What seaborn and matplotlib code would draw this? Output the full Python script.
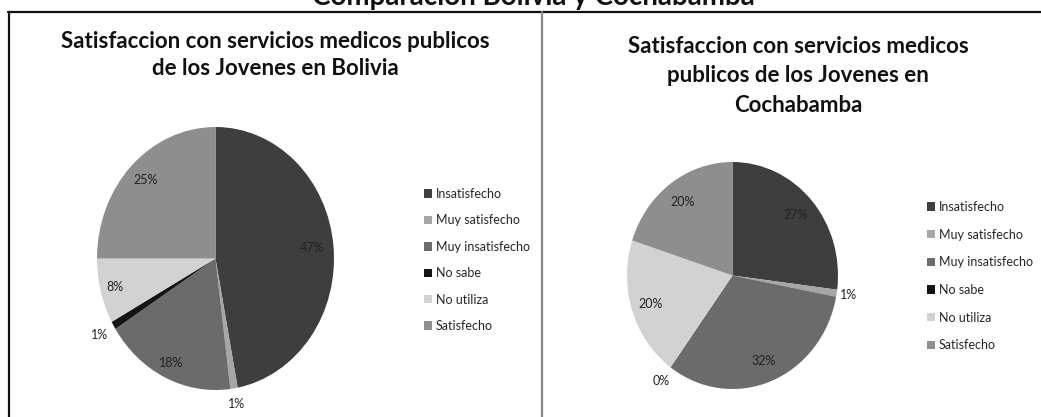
import matplotlib
matplotlib.use("Agg")
import matplotlib.pyplot as plt
from matplotlib.patches import Patch
from matplotlib.lines import Line2D
import numpy as np
import seaborn as sns

# ---- data ----
categories = ["Insatisfecho", "Muy satisfecho", "Muy insatisfecho",
              "No sabe", "No utiliza", "Satisfecho"]
bolivia_pct = [47, 1, 18, 1, 8, 25]
cocha_pct = [27, 1, 32, 0, 20, 20]

main_title = "Comparación Bolivia y Cochabamba"
bolivia_title = "Satisfaccion con servicios medicos publicos\nde los Jovenes en Bolivia"
cocha_title = "Satisfaccion con servicios medicos\npublicos de los Jovenes en\nCochabamba"

# ---- style ----
sns.set_theme(style="white")
plt.rcParams["font.family"] = ["Lato", "DejaVu Sans"]
grays = sns.color_palette(["#3e3e3e", "#a6a6a6", "#6b6b6b",
                           "#141414", "#d2d2d2", "#8e8e8e"])

W, H = 1041, 417
fig = plt.figure(figsize=(W / 100, H / 100), dpi=100)


def box(x0, y0, x1, y1):
    """Pixel box (top-left origin) -> figure-fraction rect."""
    return [x0 / W, 1 - y1 / H, (x1 - x0) / W, (y1 - y0) / H]


def fx(x):
    return x / W


def fy(y):
    return 1 - y / H


def draw_pie(rect, values, label_r):
    ax = fig.add_axes(rect)
    wedges, _ = ax.pie(values, colors=grays, startangle=90, counterclock=False,
                       radius=1.0, wedgeprops=dict(linewidth=0))
    ax.set_aspect("auto")
    ax.set_xlim(-1, 1)
    ax.set_ylim(-1, 1)
    ax.axis("off")
    for w, v, r in zip(wedges, values, label_r):
        mid = np.deg2rad((w.theta1 + w.theta2) / 2)
        ax.text(r * np.cos(mid), r * np.sin(mid), f"{v}%", ha="center",
                va="center", fontsize=9, color="#222222", clip_on=False)
    return ax


# panel frame lines
fig.add_artist(Line2D([fx(8), 1], [fy(12), fy(12)], color="#111111", lw=1.6))
fig.add_artist(Line2D([fx(8.5), fx(8.5)], [fy(12), 0], color="#111111", lw=1.6))
fig.add_artist(Line2D([fx(542), fx(542)], [fy(12), 0], color="#888888", lw=1.6))

# overall heading, running off the top edge
fig.text(fx(533), fy(9.5), main_title, ha="center", va="bottom",
         fontsize=20, fontweight="bold", color="#111111")

# panel titles
fig.text(fx(275), fy(55), bolivia_title, ha="center", va="center",
         fontsize=16, fontweight="bold", color="#111111", linespacing=1.3)
fig.text(fx(798), fy(76), cocha_title, ha="center", va="center",
         fontsize=16, fontweight="bold", color="#111111", linespacing=1.5)

# pies
draw_pie(box(97, 127, 334, 390), bolivia_pct, [0.82, 1.12, 0.88, 1.14, 0.88, 0.84])
draw_pie(box(627, 162, 838, 389), cocha_pct, [0.80, 1.11, 0.81, 1.15, 0.815, 0.80])

# legends
handles = [Patch(facecolor=c, edgecolor="none") for c in grays]
for x, y, sp in [(424, 188, 1.15), (927, 201, 1.25)]:
    fig.legend(handles, categories, loc="upper left",
               bbox_to_anchor=(fx(x), fy(y)), frameon=False, fontsize=9,
               handlelength=0.65, handleheight=0.65, handletextpad=0.3,
               labelspacing=sp, borderpad=0, borderaxespad=0)

fig.savefig("out.png", dpi=100)
